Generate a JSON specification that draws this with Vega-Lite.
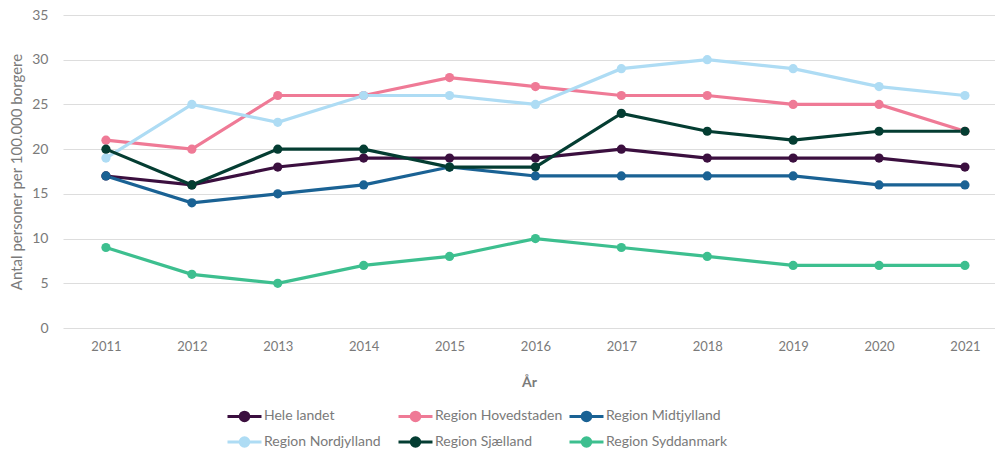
{
  "$schema": "https://vega.github.io/schema/vega-lite/v6.json",
  "width": 932,
  "height": 313,
  "autosize": {"type": "none"},
  "padding": {"left": 63, "top": 15, "right": 0, "bottom": 122},
  "background": "white",
  "config": {
    "font": "Lato",
    "view": {"stroke": null}
  },
  "data": {
    "values": [
      {"year": 2011, "region": "Hele landet", "value": 17},
      {"year": 2012, "region": "Hele landet", "value": 16},
      {"year": 2013, "region": "Hele landet", "value": 18},
      {"year": 2014, "region": "Hele landet", "value": 19},
      {"year": 2015, "region": "Hele landet", "value": 19},
      {"year": 2016, "region": "Hele landet", "value": 19},
      {"year": 2017, "region": "Hele landet", "value": 20},
      {"year": 2018, "region": "Hele landet", "value": 19},
      {"year": 2019, "region": "Hele landet", "value": 19},
      {"year": 2020, "region": "Hele landet", "value": 19},
      {"year": 2021, "region": "Hele landet", "value": 18},
      {"year": 2011, "region": "Region Hovedstaden", "value": 21},
      {"year": 2012, "region": "Region Hovedstaden", "value": 20},
      {"year": 2013, "region": "Region Hovedstaden", "value": 26},
      {"year": 2014, "region": "Region Hovedstaden", "value": 26},
      {"year": 2015, "region": "Region Hovedstaden", "value": 28},
      {"year": 2016, "region": "Region Hovedstaden", "value": 27},
      {"year": 2017, "region": "Region Hovedstaden", "value": 26},
      {"year": 2018, "region": "Region Hovedstaden", "value": 26},
      {"year": 2019, "region": "Region Hovedstaden", "value": 25},
      {"year": 2020, "region": "Region Hovedstaden", "value": 25},
      {"year": 2021, "region": "Region Hovedstaden", "value": 22},
      {"year": 2011, "region": "Region Midtjylland", "value": 17},
      {"year": 2012, "region": "Region Midtjylland", "value": 14},
      {"year": 2013, "region": "Region Midtjylland", "value": 15},
      {"year": 2014, "region": "Region Midtjylland", "value": 16},
      {"year": 2015, "region": "Region Midtjylland", "value": 18},
      {"year": 2016, "region": "Region Midtjylland", "value": 17},
      {"year": 2017, "region": "Region Midtjylland", "value": 17},
      {"year": 2018, "region": "Region Midtjylland", "value": 17},
      {"year": 2019, "region": "Region Midtjylland", "value": 17},
      {"year": 2020, "region": "Region Midtjylland", "value": 16},
      {"year": 2021, "region": "Region Midtjylland", "value": 16},
      {"year": 2011, "region": "Region Nordjylland", "value": 19},
      {"year": 2012, "region": "Region Nordjylland", "value": 25},
      {"year": 2013, "region": "Region Nordjylland", "value": 23},
      {"year": 2014, "region": "Region Nordjylland", "value": 26},
      {"year": 2015, "region": "Region Nordjylland", "value": 26},
      {"year": 2016, "region": "Region Nordjylland", "value": 25},
      {"year": 2017, "region": "Region Nordjylland", "value": 29},
      {"year": 2018, "region": "Region Nordjylland", "value": 30},
      {"year": 2019, "region": "Region Nordjylland", "value": 29},
      {"year": 2020, "region": "Region Nordjylland", "value": 27},
      {"year": 2021, "region": "Region Nordjylland", "value": 26},
      {"year": 2011, "region": "Region Sjælland", "value": 20},
      {"year": 2012, "region": "Region Sjælland", "value": 16},
      {"year": 2013, "region": "Region Sjælland", "value": 20},
      {"year": 2014, "region": "Region Sjælland", "value": 20},
      {"year": 2015, "region": "Region Sjælland", "value": 18},
      {"year": 2016, "region": "Region Sjælland", "value": 18},
      {"year": 2017, "region": "Region Sjælland", "value": 24},
      {"year": 2018, "region": "Region Sjælland", "value": 22},
      {"year": 2019, "region": "Region Sjælland", "value": 21},
      {"year": 2020, "region": "Region Sjælland", "value": 22},
      {"year": 2021, "region": "Region Sjælland", "value": 22},
      {"year": 2011, "region": "Region Syddanmark", "value": 9},
      {"year": 2012, "region": "Region Syddanmark", "value": 6},
      {"year": 2013, "region": "Region Syddanmark", "value": 5},
      {"year": 2014, "region": "Region Syddanmark", "value": 7},
      {"year": 2015, "region": "Region Syddanmark", "value": 8},
      {"year": 2016, "region": "Region Syddanmark", "value": 10},
      {"year": 2017, "region": "Region Syddanmark", "value": 9},
      {"year": 2018, "region": "Region Syddanmark", "value": 8},
      {"year": 2019, "region": "Region Syddanmark", "value": 7},
      {"year": 2020, "region": "Region Syddanmark", "value": 7},
      {"year": 2021, "region": "Region Syddanmark", "value": 7}
    ]
  },
  "encoding": {
    "x": {
      "field": "year",
      "type": "quantitative",
      "scale": {"domain": [2010.5, 2021.35], "nice": false, "zero": false},
      "axis": {
        "title": "År",
        "values": [2011, 2012, 2013, 2014, 2015, 2016, 2017, 2018, 2019, 2020, 2021],
        "format": "d",
        "grid": false,
        "ticks": false,
        "domain": false,
        "labelColor": "#7a7a7a",
        "labelFontSize": 13,
        "labelPadding": 12,
        "labelFlush": false,
        "titleColor": "#7a7a7a",
        "titleFontSize": 14,
        "titleFontWeight": "bold",
        "titlePadding": 22
      }
    },
    "y": {
      "field": "value",
      "type": "quantitative",
      "scale": {"domain": [0, 35], "nice": false},
      "axis": {
        "title": "Antal personer per 100.000 borgere",
        "values": [0, 5, 10, 15, 20, 25, 30, 35],
        "grid": true,
        "gridColor": "#dddddd",
        "gridWidth": 1.2,
        "ticks": false,
        "domain": false,
        "labelColor": "#7a7a7a",
        "labelFontSize": 14,
        "labelPadding": 15,
        "titleColor": "#7a7a7a",
        "titleFontSize": 15,
        "titleFontWeight": "normal",
        "titlePadding": 7
      }
    },
    "color": {
      "field": "region",
      "type": "nominal",
      "scale": {
        "domain": ["Hele landet", "Region Hovedstaden", "Region Midtjylland", "Region Nordjylland", "Region Sjælland", "Region Syddanmark"],
        "range": ["#3b0f3f", "#ef7a96", "#1a6294", "#aedcf4", "#043d32", "#3dbf8f"]
      },
      "legend": {
        "title": null,
        "orient": "none",
        "legendX": 163,
        "legendY": 391,
        "direction": "horizontal",
        "columns": 3,
        "gridAlign": "all",
        "columnPadding": 0,
        "rowPadding": 4,
        "labelFontSize": 14,
        "labelColor": "#7a7a7a",
        "labelOffset": 18,
        "symbolType": "M-1,0H3M0.5,0A0.5,0.5 0 1,1 1.5,0A0.5,0.5 0 1,1 0.5,0Z",
        "symbolSize": 289,
        "symbolStrokeWidth": 3,
        "symbolOpacity": 1
      }
    }
  },
  "layer": [
    {
      "mark": {"type": "line", "strokeWidth": 3.2},
      "encoding": {}
    },
    {
      "mark": {"type": "circle", "size": 85, "opacity": 1},
      "encoding": {}
    }
  ]
}
